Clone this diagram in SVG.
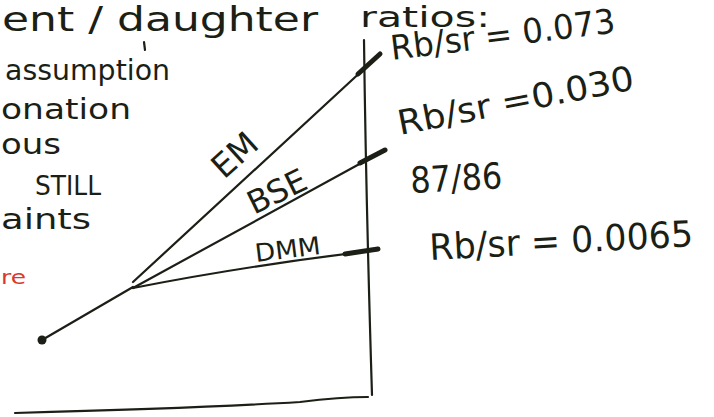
<svg xmlns="http://www.w3.org/2000/svg" width="714" height="417" viewBox="0 0 714 417">
<style>
.ink{fill:none;stroke:#1b1f16;stroke-width:2.2;stroke-linecap:round;stroke-linejoin:round}
.thick{fill:none;stroke:#1b1f16;stroke-width:5;stroke-linecap:round}
.hw{font-family:"DejaVu Sans","Liberation Sans",sans-serif;fill:#1b1f16}
</style>
<rect width="714" height="417" fill="#ffffff"/>
<g id="title">
<text class="hw" x="2" y="31" font-size="34" textLength="316" lengthAdjust="spacingAndGlyphs">ent / daughter</text>
<text class="hw" x="360" y="27" font-size="29" textLength="130" lengthAdjust="spacingAndGlyphs">ratios:</text>
</g>
<g id="notes">
<text class="hw" x="5" y="80" font-size="29" textLength="165" lengthAdjust="spacingAndGlyphs">assumption</text>
<text class="hw" x="1" y="119" font-size="29" textLength="130" lengthAdjust="spacingAndGlyphs">onation</text>
<text class="hw" x="1" y="154" font-size="29" textLength="60" lengthAdjust="spacingAndGlyphs">ous</text>
<text class="hw" x="35" y="195" font-size="27" textLength="66" lengthAdjust="spacingAndGlyphs">STILL</text>
<text class="hw" x="1" y="229" font-size="29" textLength="90" lengthAdjust="spacingAndGlyphs">aints</text>
<text x="1" y="284" font-family="DejaVu Sans,sans-serif" font-size="20" fill="#d83a2e" textLength="25" lengthAdjust="spacingAndGlyphs">re</text>
<path class="ink" d="M144 42 L145 50"/>
</g>
<g id="axes">
<path class="ink" d="M364 40 Q366 200 372 395"/>
<path class="ink" d="M15 413 Q200 408 300 402 Q340 397 368 397"/>
</g>
<g id="connectors">
<circle cx="42" cy="340" r="4.5" fill="#1b1f16"/>
<path class="ink" d="M42 340 L133 287"/>
<path class="ink" d="M133 282 L378 56"/>
<path class="ink" d="M133 288 L385 150"/>
<path class="ink" d="M133 288 Q250 265 378 250"/>
<path class="thick" d="M358 74 L380 54"/>
<path class="thick" d="M360 163 L385 150"/>
<path class="thick" d="M345 254 L378 249"/>
</g>
<g id="labels">
<text class="hw" font-size="33" transform="translate(224,180) rotate(-42)">EM</text>
<text class="hw" font-size="32" transform="translate(254,215) rotate(-26)" textLength="62" lengthAdjust="spacingAndGlyphs">BSE</text>
<text class="hw" font-size="25" transform="translate(256,262) rotate(-7)" textLength="66" lengthAdjust="spacingAndGlyphs">DMM</text>
</g>
<g id="ratios">
<text class="hw" font-size="34" transform="translate(392,60) rotate(-7)" textLength="226" lengthAdjust="spacingAndGlyphs">Rb/sr = 0.073</text>
<text class="hw" font-size="34" transform="translate(400,135) rotate(-11)" textLength="240" lengthAdjust="spacingAndGlyphs">Rb/sr =0.030</text>
<text class="hw" font-size="36" transform="translate(411,193) rotate(-3)" textLength="92" lengthAdjust="spacingAndGlyphs">87/86</text>
<text class="hw" font-size="36" transform="translate(430,260) rotate(-3)" textLength="264" lengthAdjust="spacingAndGlyphs">Rb/sr = 0.0065</text>
</g>
</svg>
